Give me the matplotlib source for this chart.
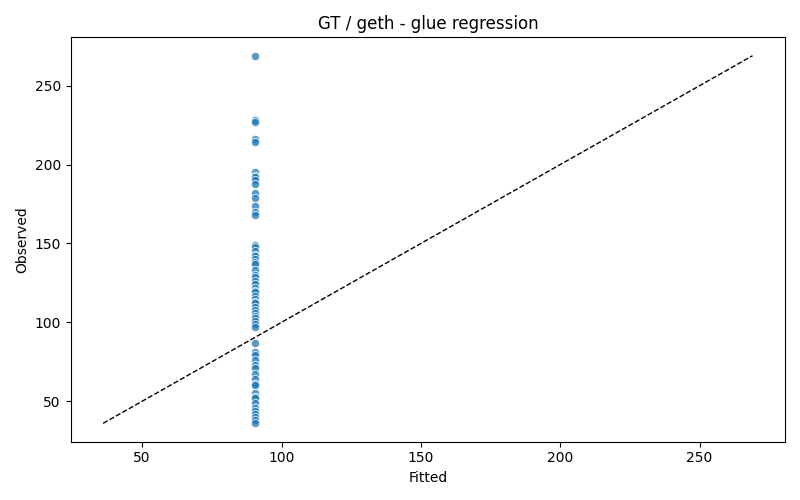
import matplotlib
matplotlib.use("Agg")
import matplotlib.pyplot as plt

observed = [269, 228, 227, 216, 214,
            195, 193, 192, 190, 188, 182, 179, 174, 170, 168,
            149, 148, 145, 143, 142, 140, 138, 137, 133, 130, 129, 126, 124,
            122, 120, 119, 117, 115, 113, 112, 110, 108, 106, 104, 103, 101,
            99, 97,
            87, 81, 79, 76, 73, 71, 67, 64, 61, 60, 55, 53, 52, 49, 46, 44,
            42, 40, 38, 36]
# el ajuste da el mismo valor para todos los puntos
fitted_value = 90.4
fitted = [fitted_value] * len(observed)

plt.figure(figsize=(8, 5), dpi=100)
plt.scatter(fitted, observed, s=36, color='#1f77b4', alpha=0.75,
            edgecolors='white', linewidths=0.75)
lims = [min(observed), max(observed)]
plt.plot(lims, lims, 'k--', linewidth=1)
plt.xlabel('Fitted')
plt.ylabel('Observed')
plt.title('GT / geth - glue regression')
plt.tight_layout()
plt.savefig("out.png")
